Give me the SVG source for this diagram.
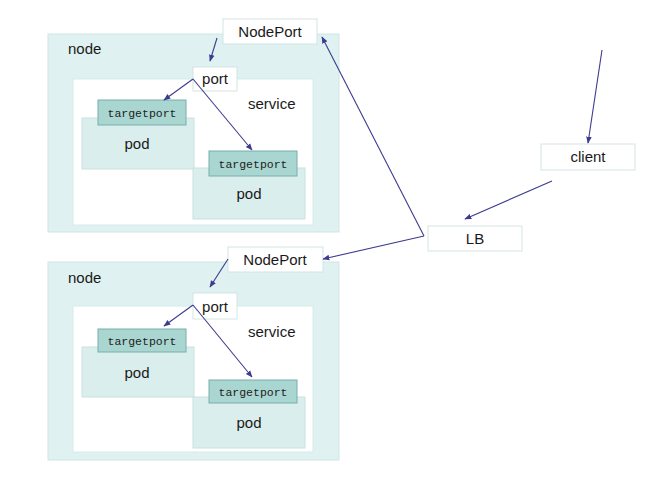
<svg xmlns="http://www.w3.org/2000/svg" width="672" height="496" viewBox="0 0 672 496">
<defs>
<marker id="ah" viewBox="0 0 10 10" refX="9" refY="5" markerWidth="7" markerHeight="7" orient="auto-start-reverse" markerUnits="userSpaceOnUse">
<path d="M0,1 L10,5 L0,9 z" fill="#3d3b8e"/>
</marker>
<style>
.node{fill:#dff1f0;stroke:#cfe6e4;stroke-width:1}
.svc{fill:#ffffff;stroke:#d6ebe9;stroke-width:1}
.pod{fill:#daefed;stroke:#c7e2e0;stroke-width:1}
.tp{fill:#a9d6d1;stroke:#78aeaa;stroke-width:1}
.box{fill:#ffffff;stroke:#d3e4e4;stroke-width:1}
.t{font-family:"Liberation Sans",Arial,sans-serif;font-size:15px;fill:#1a1a1a}
.m{font-family:"Liberation Mono","Courier New",monospace;font-size:11.5px;fill:#222}
.c{text-anchor:middle}
.a{fill:none;stroke:#3d3b8e;stroke-width:1.1;marker-end:url(#ah)}
</style>
</defs>
<rect width="672" height="496" fill="#ffffff"/>

<g id="node1">
<rect class="node" x="48" y="34" width="291" height="198"/>
<text class="t" x="68" y="54">node</text>
</g>
<g id="service1">
<rect class="svc" x="73" y="79" width="240" height="146"/>
<text class="t" x="248" y="109">service</text>
</g>
<g id="pod1a">
<rect class="pod" x="82" y="118" width="112" height="51"/>
<text class="t c" x="137" y="149">pod</text>
</g>
<g id="targetport1a">
<rect class="tp" x="98" y="100" width="88" height="25"/>
<text class="m c" x="142" y="117">targetport</text>
</g>
<g id="pod1b">
<rect class="pod" x="193" y="168" width="112" height="51"/>
<text class="t c" x="249" y="199">pod</text>
</g>
<g id="targetport1b">
<rect class="tp" x="209" y="151" width="88" height="25"/>
<text class="m c" x="253" y="168">targetport</text>
</g>
<g id="port1">
<rect class="box" x="193" y="67" width="44" height="24"/>
<text class="t c" x="215" y="84">port</text>
</g>
<g id="nodeport1">
<rect class="box" x="223" y="19" width="94" height="25"/>
<text class="t c" x="270" y="37">NodePort</text>
</g>

<g id="node2">
<rect class="node" x="48" y="262" width="291" height="198"/>
<text class="t" x="68" y="283">node</text>
</g>
<g id="service2">
<rect class="svc" x="73" y="306" width="240" height="146"/>
<text class="t" x="248" y="337">service</text>
</g>
<g id="pod2a">
<rect class="pod" x="82" y="347" width="112" height="50"/>
<text class="t c" x="137" y="378">pod</text>
</g>
<g id="targetport2a">
<rect class="tp" x="98" y="329" width="88" height="23"/>
<text class="m c" x="142" y="345">targetport</text>
</g>
<g id="pod2b">
<rect class="pod" x="193" y="397" width="112" height="51"/>
<text class="t c" x="249" y="428">pod</text>
</g>
<g id="targetport2b">
<rect class="tp" x="209" y="380" width="88" height="23"/>
<text class="m c" x="253" y="396">targetport</text>
</g>
<g id="port2">
<rect class="box" x="193" y="293" width="44" height="26"/>
<text class="t c" x="215" y="312">port</text>
</g>
<g id="nodeport2">
<rect class="box" x="228" y="247" width="95" height="25"/>
<text class="t c" x="275" y="265">NodePort</text>
</g>

<g id="client">
<rect class="box" x="541" y="144" width="94" height="26"/>
<text class="t c" x="588" y="162">client</text>
</g>
<g id="lb">
<rect class="box" x="428" y="226" width="94" height="25"/>
<text class="t c" x="475" y="244">LB</text>
</g>

<g id="connectors">
<line class="a" x1="217" y1="38" x2="210" y2="61"/>
<line class="a" x1="193" y1="79" x2="164" y2="100"/>
<line class="a" x1="193" y1="79" x2="252" y2="150"/>
<line class="a" x1="228" y1="259" x2="210" y2="287"/>
<line class="a" x1="193" y1="305" x2="164" y2="326"/>
<line class="a" x1="193" y1="305" x2="252" y2="377"/>
<line class="a" x1="602" y1="50" x2="588" y2="143"/>
<line class="a" x1="552" y1="181" x2="465" y2="219"/>
<line class="a" x1="424" y1="236" x2="322" y2="37"/>
<line class="a" x1="424" y1="236" x2="323" y2="259"/>
</g>
</svg>
